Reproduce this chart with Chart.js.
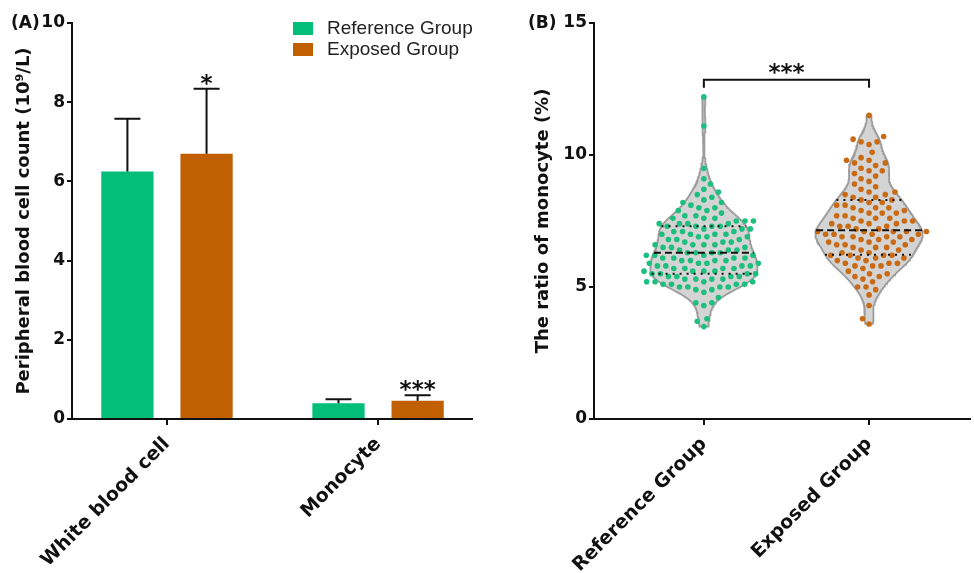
<!DOCTYPE html>
<html>
<head>
<meta charset="utf-8">
<script src="https://cdn.jsdelivr.net/npm/chart.js@4.4.1/dist/chart.umd.min.js"></script>
<style>
  html, body { margin: 0; padding: 0; background: #ffffff; }
  #wrap { position: relative; width: 974px; height: 573px; overflow: hidden; background: #fff; }
  #boxA { position: absolute; left: 0; top: 0; width: 500px; height: 573px; }
  #boxB { position: absolute; left: 500px; top: 0; width: 474px; height: 573px; }
</style>
</head>
<body>
<div id="wrap">
  <div id="boxA"><canvas id="cA" width="500" height="573"></canvas></div>
  <div id="boxB"><canvas id="cB" width="474" height="573"></canvas></div>
</div>
<script>
// ---------------- DATA ----------------
const panelLabels = ['(A)', '(B)'];
const seriesNames = ['Reference Group', 'Exposed Group'];

// Panel A: peripheral blood cell counts (10^9/L), mean + SD
const categoriesA = ['White blood cell', 'Monocyte'];
const refMeans = [6.25, 0.40];
const refSD    = [1.33, 0.10];
const expMeans = [6.70, 0.46];
const expSD    = [1.64, 0.14];
const significanceA = ['*', '***'];
const yTicksA = [0, 2, 4, 6, 8, 10];
const yTitleA = 'Peripheral blood cell count (10\u2079/L)';

// Panel B: ratio of monocyte (%), individual subjects
const groupsB = ['Reference Group', 'Exposed Group'];
const refRatio = [3.5, 3.7, 3.8, 4.3, 4.4, 4.4, 4.6, 4.8,
  4.9, 4.9, 5.0, 5.0, 5.0, 5.0, 5.1, 5.1, 5.1, 5.1, 5.2, 5.2, 5.2, 5.2,
  5.3, 5.3, 5.3, 5.3, 5.4, 5.4, 5.4, 5.4, 5.5, 5.5, 5.5, 5.5, 5.6, 5.6, 5.6, 5.6,
  5.7, 5.7, 5.7, 5.7, 5.8, 5.8, 5.8, 5.8, 5.9, 5.9, 5.9, 5.9, 6.0, 6.0, 6.0, 6.0,
  6.1, 6.1, 6.1, 6.1, 6.2, 6.2, 6.2, 6.2, 6.3, 6.3, 6.3, 6.3, 6.4, 6.4, 6.4,
  6.5, 6.5, 6.5, 6.6, 6.6, 6.6, 6.6, 6.7, 6.7, 6.7, 6.8, 6.8, 6.8,
  6.9, 6.9, 6.9, 7.0, 7.0, 7.0, 7.0, 7.1, 7.1, 7.1, 7.2, 7.2, 7.2,
  7.3, 7.3, 7.3, 7.3, 7.4, 7.4, 7.4, 7.4, 7.5, 7.5, 7.5, 7.6, 7.6, 7.6,
  7.7, 7.7, 7.8, 7.9, 7.9, 8.0, 8.0,
  8.1, 8.2, 8.2, 8.3, 8.4,
  8.5, 8.6, 8.7, 8.9, 9.1, 9.5, 11.1, 12.2];
const expRatio = [3.6, 3.8, 4.3, 4.7, 4.9, 5.0, 5.0, 5.2,
  5.3, 5.4, 5.4, 5.5, 5.5, 5.6,
  5.7, 5.8, 5.8, 5.8, 5.9, 5.9, 5.9, 6.0, 6.0,
  6.1, 6.1, 6.1, 6.2, 6.2, 6.2, 6.2, 6.3, 6.3, 6.4, 6.4,
  6.5, 6.5, 6.5, 6.6, 6.6, 6.6, 6.7, 6.7, 6.7, 6.8, 6.8, 6.8,
  6.9, 6.9, 6.9, 6.9, 7.0, 7.0, 7.0, 7.0, 7.1, 7.1, 7.1, 7.1, 7.1, 7.2, 7.2,
  7.3, 7.3, 7.3, 7.4, 7.4, 7.4, 7.5, 7.5, 7.5, 7.6, 7.6, 7.6,
  7.7, 7.7, 7.8, 7.8, 7.8, 7.9, 7.9, 8.0, 8.0, 8.0,
  8.1, 8.1, 8.2, 8.2, 8.3, 8.3, 8.4, 8.4,
  8.5, 8.5, 8.6, 8.6, 8.7, 8.8,
  8.9, 9.0, 9.1, 9.2,
  9.3, 9.4, 9.4, 9.5,
  9.6, 9.7, 9.7, 9.8, 9.8, 9.9,
  10.1, 10.4, 10.5, 10.5, 10.6, 10.7, 11.5];
const yTicksB = [0, 5, 10, 15];
const yTitleB = 'The ratio of monocyte (%)';
const significanceB = '***';
const bracketLevel = 12.85;
const bracketDrop = 0.3;

// ---------------- STYLE ----------------
const GREEN = '#02BE79', ORANGE = '#C06002';
const DOT_GREEN = '#1CBF7E', DOT_ORANGE = '#C96B14';
const BOLD = "'DejaVu Sans', sans-serif";
Chart.defaults.font.family = BOLD;
Chart.defaults.color = '#111';

const tickFont = { family: BOLD, weight: 'bold', size: 17 };
const xLabFont = { family: BOLD, weight: 'bold', size: 19 };
const titleFont = { family: BOLD, weight: 'bold', size: 18, lineHeight: 1.2 };

function axisGrid(len) {
  return { display: true, drawOnChartArea: false, drawTicks: true, tickLength: len,
           color: '#111', lineWidth: 2, offset: false };
}
const axisBorder = { display: true, color: '#111', width: 2 };

function panelLabelPlugin(text, x) {
  return {
    id: 'panelLabel' + x,
    afterDraw(chart) {
      const ctx = chart.ctx;
      ctx.save();
      ctx.font = "bold 17px " + BOLD;
      ctx.fillStyle = '#111';
      ctx.textBaseline = 'middle';
      ctx.textAlign = 'left';
      ctx.fillText(text, x, 24);
      ctx.restore();
    }
  };
}

function drawStars(ctx, text, x, centerY) {
  ctx.save();
  ctx.font = "bold 23px " + BOLD;
  ctx.fillStyle = '#111';
  ctx.textAlign = 'center';
  ctx.textBaseline = 'alphabetic';
  ctx.fillText(text, x, centerY + 12);
  ctx.restore();
}

// ---------------- PANEL A ----------------
const errorBarsPlugin = {
  id: 'errorBars',
  afterDatasetsDraw(chart) {
    const ctx = chart.ctx;
    const y = chart.scales.y;
    chart.data.datasets.forEach((ds, di) => {
      const meta = chart.getDatasetMeta(di);
      meta.data.forEach((bar, i) => {
        const top = y.getPixelForValue(ds.data[i].y + ds.sd[i]);
        ctx.save();
        ctx.strokeStyle = '#111';
        ctx.lineWidth = 2;
        ctx.beginPath();
        ctx.moveTo(bar.x, bar.y);
        ctx.lineTo(bar.x, top);
        ctx.moveTo(bar.x - 13, top);
        ctx.lineTo(bar.x + 13, top);
        ctx.stroke();
        ctx.restore();
        if (ds.stars && ds.stars[i]) drawStars(ctx, ds.stars[i], bar.x, top - 10);
      });
    });
  }
};

const boxLegendPlugin = {
  id: 'boxLegend',
  afterDraw(chart) {
    const ctx = chart.ctx;
    ctx.save();
    chart.data.datasets.forEach((ds, i) => {
      const y0 = 22 + i * 21;
      ctx.fillStyle = ds.backgroundColor;
      ctx.fillRect(293, y0, 20, 13);
      ctx.fillStyle = '#222';
      ctx.font = "19px 'Liberation Sans', Arial, sans-serif";
      ctx.textBaseline = 'middle';
      ctx.textAlign = 'left';
      ctx.fillText(ds.label, 327, y0 + 7);
    });
    ctx.restore();
  }
};

new Chart(document.getElementById('cA'), {
  type: 'bar',
  data: {
    datasets: [
      { label: seriesNames[0], data: refMeans.map((m, i) => ({ x: i, y: m })), sd: refSD,
        backgroundColor: GREEN, borderWidth: 0, categoryPercentage: 0.75, barPercentage: 0.66 },
      { label: seriesNames[1], data: expMeans.map((m, i) => ({ x: i, y: m })), sd: expSD, stars: significanceA,
        backgroundColor: ORANGE, borderWidth: 0, categoryPercentage: 0.75, barPercentage: 0.66 }
    ]
  },
  options: {
    responsive: false, animation: false, devicePixelRatio: 1, events: [],
    layout: { padding: { left: 0, top: 23, right: 28, bottom: 0 } },
    plugins: { legend: { display: false }, tooltip: { enabled: false } },
    scales: {
      x: {
        type: 'linear', min: -0.45, max: 1.445, offset: false,
        afterBuildTicks: s => { s.ticks = categoriesA.map((c, i) => ({ value: i })); },
        afterFit: s => { s.height = 154; },
        grid: axisGrid(6), border: axisBorder,
        ticks: { callback: (v, i) => categoriesA[i], minRotation: 45, maxRotation: 45, autoSkip: false,
                 padding: 8, color: '#111', font: xLabFont }
      },
      y: {
        min: 0, max: 10,
        afterBuildTicks: s => { s.ticks = yTicksA.map(v => ({ value: v })); },
        afterFit: s => { s.width = 72; },
        grid: axisGrid(5), border: axisBorder,
        ticks: { padding: 2, color: '#111', font: tickFont },
        title: { display: true, text: yTitleA, color: '#111', font: titleFont, padding: { top: 14, bottom: 0 } }
      }
    }
  },
  plugins: [errorBarsPlugin, boxLegendPlugin, panelLabelPlugin(panelLabels[0], 11)]
});

// ---------------- PANEL B ----------------
const X_UNIT_PX = 167;           // px per category step (layout)
const Y_UNIT_PX = 396 / 15;      // px per % (layout)
const VIOLIN_HALF = 0.325;       // max half-width in category units
const BANDWIDTH = 0.36;
const DOT_DIST_PX = 8.5;

function sortedCopy(a) { return a.slice().sort((p, q) => p - q); }
function quantile(s, p) {
  const pos = (s.length - 1) * p, lo = Math.floor(pos), hi = Math.ceil(pos);
  return s[lo] + (s[hi] - s[lo]) * (pos - lo);
}
function densityFn(values) {
  return y => values.reduce((acc, v) => acc + Math.exp(-0.5 * Math.pow((y - v) / BANDWIDTH, 2)), 0);
}
function violin(values, center) {
  const s = sortedCopy(values);
  const lo = s[0], hi = s[s.length - 1];
  const dens = densityFn(values);
  const n = 240;
  const ys = [];
  for (let k = 0; k <= n; k++) ys.push(lo + (hi - lo) * k / n);
  const d = ys.map(dens);
  const m = Math.max(...d);
  const half = y => dens(y) / m * VIOLIN_HALF;
  const right = ys.map((y, k) => ({ x: center + d[k] / m * VIOLIN_HALF, y }));
  const left = ys.slice().reverse().map(y => ({ x: center - half(y), y }));
  const poly = right.concat(left);
  poly.push(poly[0]);
  return { poly, half, s };
}
// swarm layout: horizontal offsets only, so points never overlap
function beeswarm(values, center, dist) {
  const s = sortedCopy(values);
  const placed = [];
  const out = [];
  s.forEach((v, idx) => {
    const py = v * Y_UNIT_PX;
    const near = placed.filter(p => Math.abs(p.py - py) < dist);
    const cands = [0];
    near.forEach(p => {
      const dx = Math.sqrt(dist * dist - (p.py - py) * (p.py - py));
      cands.push(p.px + dx, p.px - dx);
    });
    const sign = idx % 2 === 0 ? 1 : -1;
    cands.sort((a, b) => (Math.abs(a) - Math.abs(b)) || (sign * (b - a)));
    let chosen = 0;
    for (const c of cands) {
      if (near.every(p => (p.px - c) * (p.px - c) + (p.py - py) * (p.py - py) >= dist * dist - 1e-6)) { chosen = c; break; }
    }
    placed.push({ px: chosen, py });
    out.push({ x: center + chosen / X_UNIT_PX, y: v });
  });
  return out;
}

const seriesB = [refRatio, expRatio];
const dotColors = [DOT_GREEN, DOT_ORANGE];
const datasetsB = [];
seriesB.forEach((vals, gi) => {
  const V = violin(vals, gi);
  datasetsB.push({ type: 'line', data: V.poly, order: 5, fill: 'shape', backgroundColor: '#D4D4D4',
                   borderColor: '#9C9C9C', borderWidth: 1.8, pointRadius: 0, tension: 0 });
  datasetsB.push({ type: 'scatter', data: beeswarm(vals, gi, DOT_DIST_PX), order: 3, pointRadius: 2.8,
                   pointBackgroundColor: dotColors[gi], pointBorderWidth: 0, backgroundColor: dotColors[gi] });
  const med = quantile(V.s, 0.5), q1 = quantile(V.s, 0.25), q3 = quantile(V.s, 0.75);
  [[med, [7, 4]], [q1, [2, 5]], [q3, [2, 5]]].forEach(([q, dash]) => {
    const hw = V.half(q);
    datasetsB.push({ type: 'line', data: [{ x: gi - hw, y: q }, { x: gi + hw, y: q }], order: 1,
                     borderColor: '#111', borderWidth: 2, borderDash: dash, pointRadius: 0, fill: false });
  });
});
datasetsB.push({ type: 'line', order: 0, fill: false, pointRadius: 0, borderColor: '#111', borderWidth: 2,
  data: [{ x: 0, y: bracketLevel - bracketDrop }, { x: 0, y: bracketLevel },
         { x: 1, y: bracketLevel }, { x: 1, y: bracketLevel - bracketDrop }] });

const bracketStarsPlugin = {
  id: 'bracketStars',
  afterDatasetsDraw(chart) {
    const x = chart.scales.x.getPixelForValue(0.5);
    const y = chart.scales.y.getPixelForValue(bracketLevel);
    drawStars(chart.ctx, significanceB, x, y - 12);
  }
};

new Chart(document.getElementById('cB'), {
  type: 'scatter',
  data: { datasets: datasetsB },
  options: {
    responsive: false, animation: false, devicePixelRatio: 1, events: [],
    layout: { padding: { left: 0, top: 23, right: 0, bottom: 0 } },
    plugins: { legend: { display: false }, tooltip: { enabled: false } },
    scales: {
      x: {
        type: 'linear', min: -0.665, max: 1.611, offset: false,
        afterBuildTicks: s => { s.ticks = groupsB.map((g, i) => ({ value: i })); },
        afterFit: s => { s.height = 154; },
        grid: axisGrid(6), border: axisBorder,
        ticks: { callback: (v, i) => groupsB[i], minRotation: 45, maxRotation: 45, autoSkip: false,
                 padding: 8, color: '#111', font: xLabFont }
      },
      y: {
        min: 0, max: 15,
        afterBuildTicks: s => { s.ticks = yTicksB.map(v => ({ value: v })); },
        afterFit: s => { s.width = 94; },
        grid: axisGrid(5), border: axisBorder,
        ticks: { padding: 2, color: '#111', font: tickFont },
        title: { display: true, text: yTitleB, color: '#111', font: titleFont, padding: { top: 33, bottom: 0 } }
      }
    }
  },
  plugins: [bracketStarsPlugin, panelLabelPlugin(panelLabels[1], 28)]
});
</script>
</body>
</html>
